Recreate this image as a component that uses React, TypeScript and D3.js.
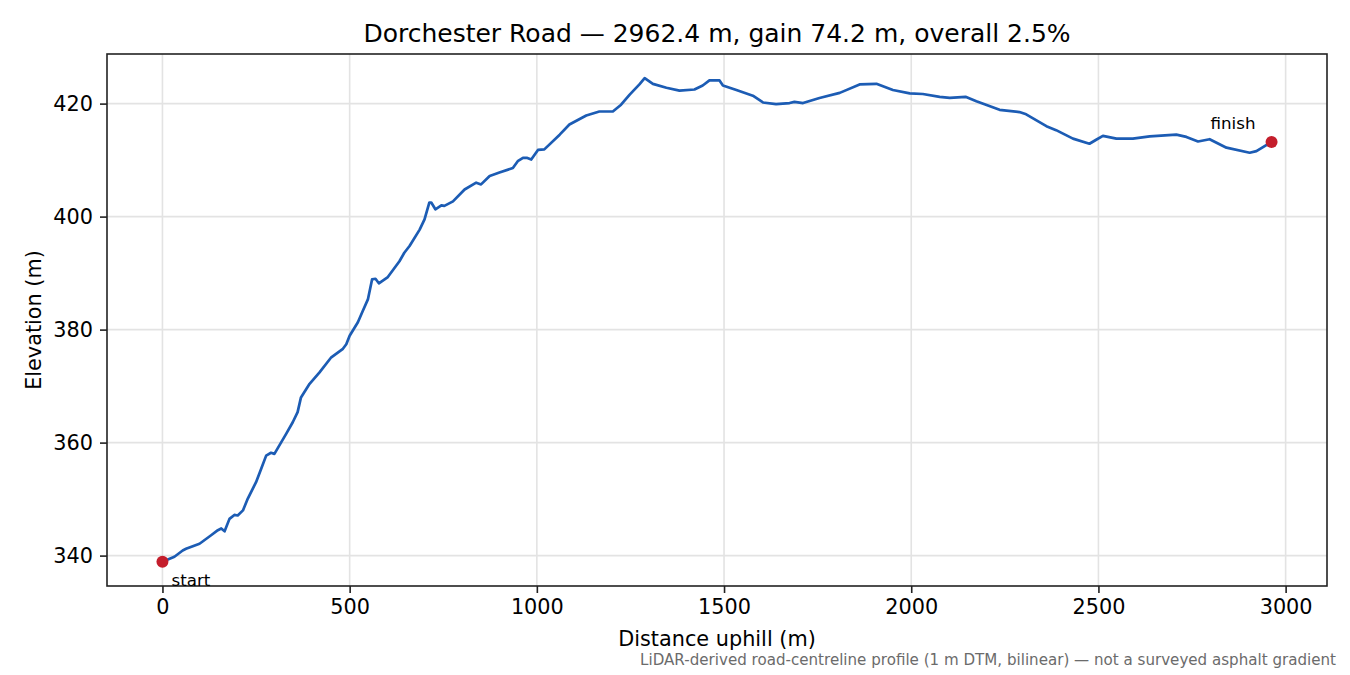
import { useEffect, useRef } from "react";
import * as d3 from "d3";

// profile (distance in m, elevation in m)
const distance = [
    0, 32, 54, 63, 99, 130, 148, 157, 166, 179, 192, 201, 215, 228, 250, 264, 277, 290, 299, 330,
    348, 361, 370, 393, 419, 451, 482, 491, 500, 522, 535, 549, 560, 569, 578, 602, 633, 646, 660, 687,
    700, 713, 718, 729, 745, 753, 776, 807, 838, 851, 874, 900, 936, 949, 963, 973, 985, 1003, 1020, 1061,
    1087, 1132, 1167, 1203, 1225, 1248, 1274, 1288, 1310, 1346, 1381, 1421, 1443, 1461, 1488, 1497, 1533, 1577, 1604, 1639,
    1675, 1688, 1711, 1755, 1809, 1862, 1907, 1951, 1996, 2031, 2076, 2103, 2145, 2174, 2236, 2289, 2307, 2361, 2387, 2432,
    2476, 2494, 2512, 2548, 2592, 2637, 2708, 2735, 2766, 2797, 2842, 2904, 2922, 2962.4,
];
const elevation = [
    338.9, 339.8, 340.9, 341.2, 342.1, 343.6, 344.5, 344.8, 344.3, 346.5, 347.2, 347.1, 348.0, 350.1, 353.0, 355.4, 357.7, 358.2, 358.0, 361.5,
    363.6, 365.4, 368.0, 370.4, 372.4, 375.1, 376.6, 377.4, 378.9, 381.3, 383.3, 385.4, 388.9, 389.0, 388.2, 389.3, 392.1, 393.6, 394.8, 397.7,
    399.5, 402.5, 402.5, 401.3, 402.0, 401.9, 402.7, 404.8, 406.0, 405.7, 407.2, 407.8, 408.6, 409.8, 410.4, 410.4, 410.1, 411.8, 411.9, 414.5,
    416.3, 417.9, 418.6, 418.6, 419.8, 421.6, 423.4, 424.5, 423.5, 422.8, 422.3, 422.5, 423.2, 424.1, 424.1, 423.2, 422.4, 421.4, 420.2, 419.9,
    420.1, 420.3, 420.1, 421.0, 421.9, 423.4, 423.5, 422.4, 421.8, 421.7, 421.2, 421.0, 421.2, 420.4, 418.9, 418.5, 418.1, 416.0, 415.3, 413.8,
    412.9, 413.6, 414.3, 413.8, 413.8, 414.2, 414.5, 414.1, 413.3, 413.7, 412.2, 411.3, 411.6, 413.2,
];
const x_ticks = [0, 500, 1000, 1500, 2000, 2500, 3000];
const y_ticks = [340, 360, 380, 400, 420];

const title = "Dorchester Road \u2014 2962.4 m, gain 74.2 m, overall 2.5%";
const footer = "LiDAR-derived road-centreline profile (1 m DTM, bilinear) \u2014 not a surveyed asphalt gradient";

const svg_width = 1350;
const svg_height = 675;
const margin = { left: 107, right: 23, top: 54, bottom: 89 };
const font = "'DejaVu Sans', sans-serif";

export default function App() {
    const ref = useRef(null);

    useEffect(() => {
        document.body.style.margin = "0";
        const svg = d3.select(ref.current)
            .append("svg")
                .attr("width", svg_width)
                .attr("height", svg_height)
                .style("display", "block")
                .style("background-color", "white")
                .style("font-family", font);

        const width = svg_width - margin.left - margin.right;
        const height = svg_height - margin.top - margin.bottom;

        const g = svg.append("g")
            .attr("transform", `translate(${margin.left}, ${margin.top})`);

        // matplotlib-style 5% padding
        const [dx0, dx1] = d3.extent(distance) as [number, number];
        const [dy0, dy1] = d3.extent(elevation) as [number, number];
        const px = (dx1 - dx0) * 0.05;
        const py = (dy1 - dy0) * 0.05;

        const x = d3.scaleLinear().domain([dx0 - px, dx1 + px]).range([0, width]);
        const y = d3.scaleLinear().domain([dy0 - py, dy1 + py]).range([height, 0]);

        // grid
        g.append("g")
            .selectAll("line")
            .data(x_ticks)
            .enter()
            .append("line")
                .attr("x1", (d) => x(d)).attr("x2", (d) => x(d))
                .attr("y1", 0).attr("y2", height)
                .attr("stroke", "#e3e3e3").attr("stroke-width", 1.6);
        g.append("g")
            .selectAll("line")
            .data(y_ticks)
            .enter()
            .append("line")
                .attr("y1", (d) => y(d)).attr("y2", (d) => y(d))
                .attr("x1", 0).attr("x2", width)
                .attr("stroke", "#e3e3e3").attr("stroke-width", 1.6);

        const pts = distance.map((d, i) => [d, elevation[i]] as [number, number]);
        const line = d3.line<[number, number]>()
            .x((d) => x(d[0]))
            .y((d) => y(d[1]));

        g.append("path")
            .datum(pts)
            .attr("d", line)
            .attr("fill", "none")
            .attr("stroke", "#1c5cb4")
            .attr("stroke-width", 2.7)
            .attr("stroke-linejoin", "round")
            .attr("stroke-linecap", "round");

        const ends = [pts[0], pts[pts.length - 1]];
        g.append("g")
            .selectAll("circle")
            .data(ends)
            .enter()
            .append("circle")
                .attr("cx", (d) => x(d[0]))
                .attr("cy", (d) => y(d[1]))
                .attr("r", 6)
                .attr("fill", "#c41e2c");

        // axes
        const xAxis = g.append("g")
            .attr("transform", `translate(0, ${height})`)
            .call(d3.axisBottom(x).tickValues(x_ticks).tickSize(7).tickPadding(6).tickFormat(d3.format("d")));
        const yAxis = g.append("g")
            .call(d3.axisLeft(y).tickValues(y_ticks).tickSize(7).tickPadding(7).tickFormat(d3.format("d")));
        [xAxis, yAxis].forEach((a) => {
            a.select(".domain").remove();
            a.selectAll("line").attr("stroke", "#222").attr("stroke-width", 1.6);
            a.selectAll("text")
                .attr("fill", "#000")
                .style("font-size", "20.8px")
                .style("font-family", font);
        });

        g.append("rect")
            .attr("width", width)
            .attr("height", height)
            .attr("fill", "none")
            .attr("stroke", "#222")
            .attr("stroke-width", 1.6);

        // annotations
        g.append("text")
            .attr("x", x(ends[0][0]) + 9)
            .attr("y", y(ends[0][1]) + 24)
            .style("font-size", "16.7px")
            .text("start");
        g.append("text")
            .attr("x", x(ends[1][0]) - 16)
            .attr("y", y(ends[1][1]) - 13)
            .attr("text-anchor", "end")
            .style("font-size", "16.7px")
            .text("finish");

        // labels
        svg.append("text")
            .attr("x", margin.left + width / 2)
            .attr("y", 42)
            .attr("text-anchor", "middle")
            .style("font-size", "25px")
            .text(title);
        svg.append("text")
            .attr("x", margin.left + width / 2)
            .attr("y", 646)
            .attr("text-anchor", "middle")
            .style("font-size", "20.8px")
            .text("Distance uphill (m)");
        svg.append("text")
            .attr("transform", `translate(41, ${margin.top + height / 2}) rotate(-90)`)
            .attr("text-anchor", "middle")
            .style("font-size", "20.8px")
            .text("Elevation (m)");
        svg.append("text")
            .attr("x", 1336)
            .attr("y", 665)
            .attr("text-anchor", "end")
            .attr("fill", "#6b6b6b")
            .style("font-size", "15.1px")
            .text(footer);

        return () => {
            d3.select(ref.current).selectAll("*").remove();
        };
    }, [ref]);

    return (
        <div ref={ref} />
    );
}
